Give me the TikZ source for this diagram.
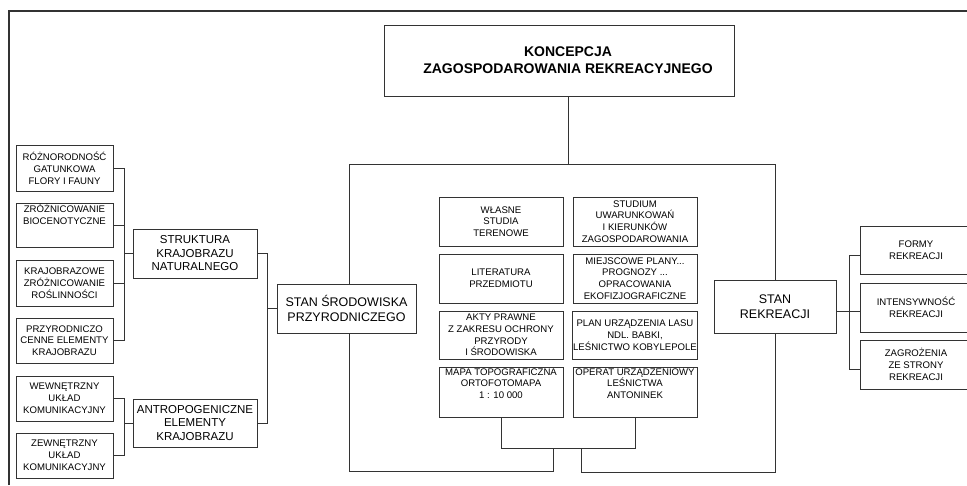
\documentclass[tikz,border=0pt]{standalone}
\usepackage{fontspec}
\setmainfont{Liberation Sans}
\usetikzlibrary{backgrounds,calc}
\begin{document}
\begin{tikzpicture}[x=1pt,y=-1pt,
  ln/.style={draw=black!80, line width=0.9pt},
  box/.style={draw=black!80, line width=0.9pt, fill=white, rectangle, inner sep=1pt, align=center, text=black},
  small/.style={box, font=\fontsize{9.6}{11.8}\selectfont},
  mid/.style={box, font=\fontsize{11.5}{13.5}\selectfont},
  big/.style={box, font=\fontsize{12.5}{15}\selectfont},
  ttl/.style={box, font=\fontsize{14}{17}\selectfont\bfseries}]
\useasboundingbox (0,0) rectangle (967,485);
\clip (0,0) rectangle (967,485);
% frame
\draw[ln, line width=1.2pt] (9,485) -- (9,11) -- (980,11);
% title
\node[ttl, minimum width=350pt, minimum height=71pt] (title) at (559,60.5) {\hspace*{18pt}KONCEPCJA\\\hspace*{18pt}ZAGOSPODAROWANIA REKREACYJNEGO};
% left column
\node[small, minimum width=97pt, minimum height=46pt] (r1) at (64.5,168) {RÓŻNORODNOŚĆ\\GATUNKOWA\\FLORY I FAUNY};
\node[small, minimum width=97pt, minimum height=43pt] (r2) at (64.5,225.5) {ZRÓŻNICOWANIE\\BIOCENOTYCZNE\\[10pt]};
\node[small, minimum width=97pt, minimum height=46pt] (r3) at (64.5,283) {KRAJOBRAZOWE\\ZRÓŻNICOWANIE\\ROŚLINNOŚCI};
\node[small, minimum width=97pt, minimum height=45pt] (r4) at (64.5,340.5) {PRZYRODNICZO\\CENNE ELEMENTY\\KRAJOBRAZU};
\node[small, minimum width=97pt, minimum height=45pt] (r5) at (64.5,398.5) {WEWNĘTRZNY\\UKŁAD\\KOMUNIKACYJNY};
\node[small, minimum width=97pt, minimum height=45pt] (r6) at (64.5,455.5) {ZEWNĘTRZNY\\UKŁAD\\KOMUNIKACYJNY};
% second column
\node[mid, minimum width=124pt, minimum height=49pt] (s1) at (195,253.5) {STRUKTURA\\KRAJOBRAZU\\NATURALNEGO};
\node[mid, minimum width=124pt, minimum height=48pt] (s2) at (195,423) {ANTROPOGENICZNE\\ELEMENTY\\KRAJOBRAZU};
% stan srodowiska
\node[big, minimum width=139pt, minimum height=49pt] (st) at (346.5,308.5) {STAN ŚRODOWISKA\\PRZYRODNICZEGO};
% sources
\node[small, minimum width=124pt, minimum height=49pt] (m1) at (501,221.5) {WŁASNE\\STUDIA\\TERENOWE};
\node[small, minimum width=124pt, minimum height=49pt] (m2) at (501,278.5) {LITERATURA\\PRZEDMIOTU};
\node[small, minimum width=124pt, minimum height=48pt] (m3) at (501,335) {AKTY PRAWNE\\Z ZAKRESU OCHRONY\\PRZYRODY\\I ŚRODOWISKA};
\node[small, minimum width=124pt, minimum height=49pt] (m4) at (501,392.5) {MAPA TOPOGRAFICZNA\\ORTOFOTOMAPA\\1 : 10 000\\[6pt]};
\node[small, minimum width=124pt, minimum height=49pt] (n1) at (635,221.5) {STUDIUM\\UWARUNKOWAŃ\\I KIERUNKÓW\\ZAGOSPODAROWANIA};
\node[small, minimum width=124pt, minimum height=49pt] (n2) at (635,278.5) {MIEJSCOWE PLANY...\\PROGNOZY ...\\OPRACOWANIA\\EKOFIZJOGRAFICZNE};
\node[small, minimum width=124pt, minimum height=48pt] (n3) at (635,335) {PLAN URZĄDZENIA LASU\\NDL. BABKI,\\LEŚNICTWO KOBYLEPOLE};
\node[small, minimum width=124pt, minimum height=49pt] (n4) at (635,392.5) {OPERAT URZĄDZENIOWY\\LEŚNICTWA\\ANTONINEK\\[6pt]};
% stan rekreacji
\node[big, minimum width=122pt, minimum height=53pt] (rk) at (775,306.5) {STAN\\REKREACJI};
% right column
\node[small, minimum width=112pt, minimum height=48pt] (f1) at (916,250) {FORMY\\REKREACJI};
\node[small, minimum width=112pt, minimum height=49pt] (f2) at (916,307.5) {INTENSYWNOŚĆ\\REKREACJI};
\node[small, minimum width=112pt, minimum height=49pt] (f3) at (916,364.5) {ZAGROŻENIA\\ZE STRONY\\REKREACJI};
% buses
\coordinate (b1) at (124,0);
\coordinate (b2) at (267,0);
\coordinate (b3) at (849,0);
\coordinate (tl) at (568,164);
\coordinate (lc) at (349,164);
\coordinate (rc) at (775,164);
\coordinate (h1) at (503,448);
\coordinate (j1) at (553,471);
\coordinate (j2) at (581,472);
\coordinate (j3) at (775,472);
\begin{scope}[on background layer]
% left bracket 1
\draw[ln] (r1.east) -- (r1.east -| b1) -- (r4.east -| b1) -- (r4.east);
\draw[ln] (r2.east) -- (r2.east -| b1);
\draw[ln] (r3.east) -- (r3.east -| b1);
\draw[ln] (b1 |- s1.west) -- (s1.west);
% left bracket 2
\draw[ln] (r5.east) -- (r5.east -| b1) -- (r6.east -| b1) -- (r6.east);
\draw[ln] (b1 |- s2.west) -- (s2.west);
% bracket 3
\draw[ln] (s1.east) -- (s1.east -| b2) -- (s2.east -| b2) -- (s2.east);
\draw[ln] (b2 |- st.west) -- (st.west);
% title and loop
\draw[ln] (title.south -| tl) -- (tl);
\draw[ln] (rk.north) -- (rc) -- (lc) -- (lc |- j1) -- (j1) -- (j1 |- h1);
\draw[ln] (m4.south) -- (m4.south |- h1) -- (n4.south |- h1) -- (n4.south);
\draw[ln] (j2 |- h1) -- (j2) -- (j3) -- (rk.south);
% right bracket
\draw[ln] ($(rk.east)+(0,5)$) -- ($(f2.west |- rk.east)+(0,5)$);
\draw[ln] ($(f1.west)+(0,5)$) -- ($(f1.west -| b3)+(0,5)$) -- ($(f3.west -| b3)+(0,5)$) -- ($(f3.west)+(0,5)$);
\end{scope}
\end{tikzpicture}
\end{document}
